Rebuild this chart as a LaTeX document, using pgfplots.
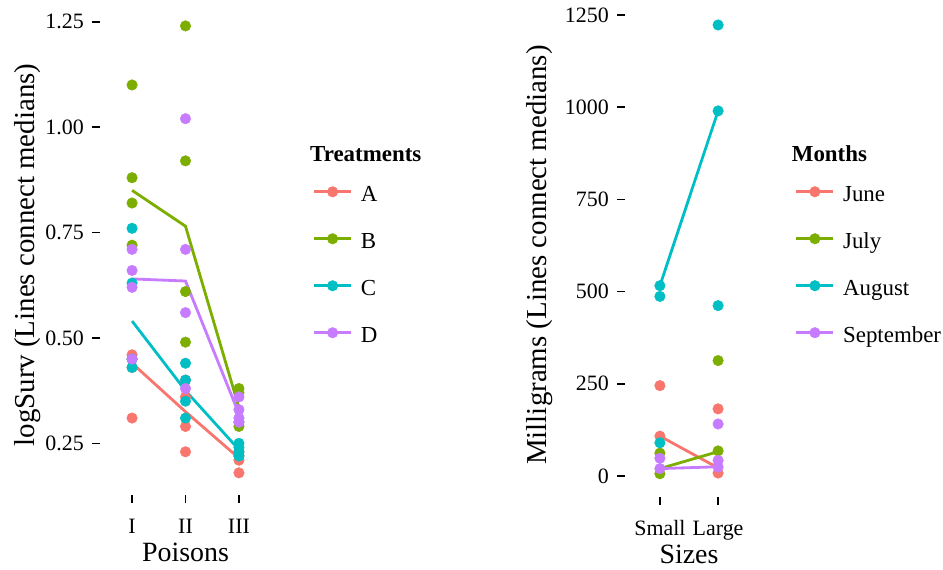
\documentclass[border=0pt]{standalone}
\usepackage{pgfplots}
\pgfplotsset{compat=1.18}
\usepackage{fontspec}
\setmainfont{Liberation Serif}
\definecolor{cA}{HTML}{F8766D}
\definecolor{cB}{HTML}{7CAE00}
\definecolor{cC}{HTML}{00BFC4}
\definecolor{cD}{HTML}{C77CFF}
\pgfplotsset{
  tufte/.style={
    scale only axis, clip=false,
    axis x line*=bottom, axis y line*=left,
    axis line style={draw=none},
    tick align=outside,
    major tick length=8bp,
    every tick/.style={black, line width=1.6bp},
    tick label style={font=\fontsize{22}{26}\selectfont, inner sep=0pt},
    xticklabel style={anchor=base, yshift=-30bp},
    yticklabel style={anchor=east, xshift=-8bp},
    every axis x label/.style={at={(axis description cs:0.5,0)}, anchor=base, yshift=-66bp, font=\fontsize{28}{32}\selectfont},
    legend style={draw=none, fill=none, inner sep=0pt, outer sep=0pt, row sep=25.5bp, column sep=0pt,
       font=\fontsize{23}{27}\selectfont,
       cells={anchor=base west, inner sep=0pt, text height=16bp, text depth=6bp}},
    legend image code/.code={
      \draw[##1, line width=2.8bp] (0bp,10bp) -- (37bp,10bp);
      \fill[##1] (18.5bp,10bp) circle (5.3bp);
      \path (44.5bp,0bp);
    },
  },
  pts/.style={only marks, mark=*, mark size=5.3bp, mark options={draw=none}, forget plot},
  med/.style={no marks, line width=2.8bp, forget plot},
}
\begin{document}
\begin{tikzpicture}
\path[use as bounding box] (0bp,0bp) rectangle (943bp,570bp);
% ---------------- Left panel ----------------
\begin{axis}[tufte,
  at={(100bp,74.8bp)}, anchor=south west,
  width=171bp, height=491.6bp,
  xmin=0.4, xmax=3.6, ymin=0.127, ymax=1.293,
  xtick={1,2,3}, xticklabels={I,II,III},
  ytick={0.25,0.5,0.75,1.0,1.25}, yticklabels={0.25,0.50,0.75,1.00,1.25},
  xlabel={Poisons},
  ylabel={logSurv (Lines connect medians)},
  every axis y label/.style={at={(axis description cs:-0.421,0.4886)}, rotate=90, anchor=center, font=\fontsize{29}{33}\selectfont},
  legend style={at={(axis description cs:1.2439,0.6334)}, anchor=north west},
]
\addplot[pts, cA] coordinates {(1,0.31)(1,0.45)(1,0.46)(1,0.43)(2,0.36)(2,0.29)(2,0.40)(2,0.23)(3,0.22)(3,0.21)(3,0.18)(3,0.23)};
\addplot[pts, cB] coordinates {(1,0.82)(1,1.10)(1,0.88)(1,0.72)(2,0.92)(2,0.61)(2,0.49)(2,1.24)(3,0.30)(3,0.37)(3,0.38)(3,0.29)};
\addplot[pts, cC] coordinates {(1,0.43)(1,0.45)(1,0.63)(1,0.76)(2,0.44)(2,0.35)(2,0.31)(2,0.40)(3,0.23)(3,0.25)(3,0.24)(3,0.22)};
\addplot[pts, cD] coordinates {(1,0.45)(1,0.71)(1,0.66)(1,0.62)(2,0.56)(2,1.02)(2,0.71)(2,0.38)(3,0.30)(3,0.36)(3,0.31)(3,0.33)};
\addplot[med, cA] coordinates {(1,0.44)(2,0.325)(3,0.215)};
\addplot[med, cB] coordinates {(1,0.85)(2,0.765)(3,0.335)};
\addplot[med, cC] coordinates {(1,0.54)(2,0.375)(3,0.235)};
\addplot[med, cD] coordinates {(1,0.64)(2,0.635)(3,0.32)};
\addlegendimage{cA}\addlegendentry{A}
\addlegendimage{cB}\addlegendentry{B}
\addlegendimage{cC}\addlegendentry{C}
\addlegendimage{cD}\addlegendentry{D}
\end{axis}
\node[anchor=base west, inner sep=0pt, font=\fontsize{23}{27}\selectfont\bfseries] at (310bp,408.3bp) {Treatments};
% ---------------- Right panel ----------------
\begin{axis}[tufte,
  at={(625bp,73bp)}, anchor=south west,
  width=128bp, height=494.5bp,
  xmin=0.4, xmax=2.6, ymin=-57, ymax=1284,
  xtick={1,2}, xticklabels={Small,Large},
  ytick={0,250,500,750,1000,1250}, yticklabels={0,250,500,750,1000,1250},
  xlabel={Sizes},
  ylabel={Milligrams (Lines connect medians)},
  every axis y label/.style={at={(axis description cs:-0.664,0.4894)}, rotate=90, anchor=center, font=\fontsize{29}{33}\selectfont},
  legend style={at={(axis description cs:1.3281,0.6334)}, anchor=north west},
]
\addplot[pts, cA] coordinates {(1,245)(1,108)(2,182)(2,8)};
\addplot[pts, cB] coordinates {(1,62)(1,6)(2,313)(2,68)};
\addplot[pts, cC] coordinates {(1,516)(1,487)(1,90)(2,1223)(2,990)(2,462)};
\addplot[pts, cD] coordinates {(1,48)(1,20)(2,141)(2,42)(2,24)};
\addplot[med, cA] coordinates {(1,108)(2,22)};
\addplot[med, cB] coordinates {(1,20)(2,66)};
\addplot[med, cC] coordinates {(1,516)(2,990)};
\addplot[med, cD] coordinates {(1,20)(2,25)};
\addlegendimage{cA}\addlegendentry{June}
\addlegendimage{cB}\addlegendentry{July}
\addlegendimage{cC}\addlegendentry{August}
\addlegendimage{cD}\addlegendentry{September}
\end{axis}
\node[anchor=base west, inner sep=0pt, font=\fontsize{23}{27}\selectfont\bfseries] at (791.7bp,408.3bp) {Months};
\end{tikzpicture}
\end{document}
